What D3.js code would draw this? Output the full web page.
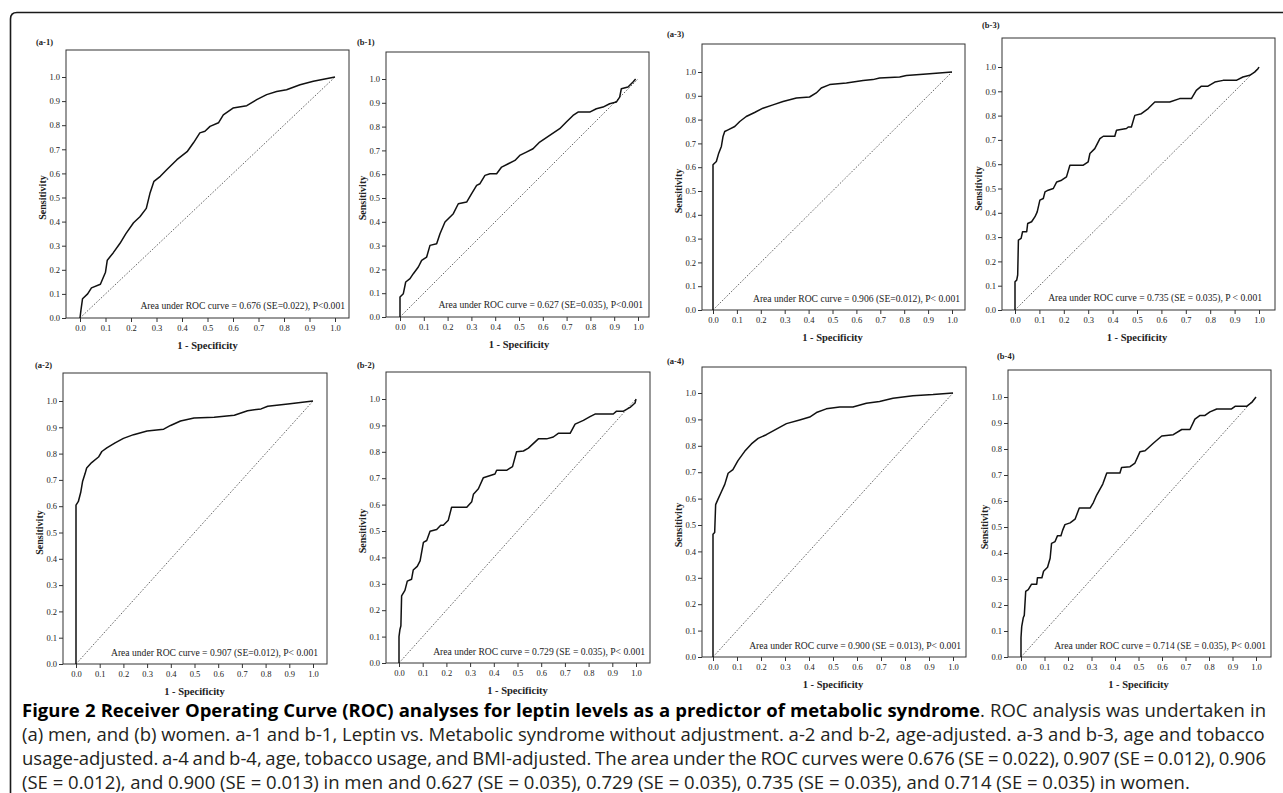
<!DOCTYPE html>
<html>
<head>
<meta charset="utf-8">
<script src="https://cdn.jsdelivr.net/npm/d3@7"></script>
<style>
  html, body { margin: 0; padding: 0; background: #fff; }
  svg { display: block; }
</style>
</head>
<body>
<svg id="fig" width="1283" height="793"></svg>
<script>
/* ---- data ---- */
const panelIds = ["a-1", "b-1", "a-3", "b-3", "a-2", "b-2", "a-4", "b-4"];

// [1 - specificity, sensitivity]
const rocA1 = [[0,0],[0.004,0.035],[0.01,0.08],[0.03,0.1],[0.045,0.125],[0.08,0.14],[0.1,0.19],[0.107,0.24],[0.13,0.27],[0.157,0.31],[0.18,0.35],[0.21,0.395],[0.235,0.42],[0.26,0.455],[0.275,0.52],[0.29,0.567],[0.315,0.588],[0.34,0.615],[0.38,0.657],[0.42,0.69],[0.445,0.727],[0.47,0.768],[0.49,0.775],[0.51,0.795],[0.543,0.81],[0.562,0.843],[0.6,0.871],[0.654,0.881],[0.693,0.906],[0.732,0.927],[0.771,0.94],[0.81,0.947],[0.863,0.968],[0.915,0.982],[0.98,0.996],[1,1]];
const rocB1 = [[0,0],[0,0.084],[0.014,0.098],[0.024,0.147],[0.042,0.161],[0.056,0.182],[0.077,0.21],[0.091,0.238],[0.112,0.252],[0.126,0.301],[0.154,0.308],[0.168,0.35],[0.189,0.399],[0.224,0.434],[0.245,0.476],[0.28,0.483],[0.301,0.518],[0.322,0.553],[0.336,0.56],[0.357,0.595],[0.378,0.602],[0.406,0.602],[0.427,0.63],[0.455,0.644],[0.483,0.658],[0.503,0.679],[0.531,0.693],[0.559,0.707],[0.587,0.735],[0.629,0.763],[0.671,0.791],[0.699,0.819],[0.727,0.847],[0.748,0.861],[0.797,0.861],[0.825,0.875],[0.853,0.882],[0.881,0.896],[0.909,0.903],[0.923,0.924],[0.93,0.959],[0.958,0.966],[0.979,0.987],[0.99,1]];
const rocA3 = [[0,0],[0,0.61],[0.014,0.624],[0.024,0.659],[0.035,0.687],[0.042,0.729],[0.049,0.75],[0.063,0.757],[0.091,0.771],[0.112,0.792],[0.139,0.813],[0.174,0.83],[0.209,0.848],[0.251,0.862],[0.293,0.876],[0.349,0.891],[0.404,0.895],[0.432,0.912],[0.453,0.933],[0.488,0.947],[0.558,0.954],[0.628,0.964],[0.669,0.968],[0.697,0.975],[0.781,0.979],[0.809,0.985],[0.893,0.992],[1,1]];
const rocB3 = [[0,0],[0,0.116],[0.007,0.123],[0.011,0.144],[0.014,0.288],[0.025,0.295],[0.031,0.322],[0.048,0.322],[0.052,0.356],[0.068,0.363],[0.082,0.384],[0.091,0.404],[0.102,0.452],[0.116,0.459],[0.123,0.486],[0.136,0.493],[0.157,0.5],[0.171,0.527],[0.191,0.534],[0.211,0.548],[0.225,0.596],[0.28,0.596],[0.3,0.61],[0.307,0.644],[0.327,0.664],[0.348,0.705],[0.362,0.715],[0.409,0.715],[0.416,0.74],[0.457,0.747],[0.464,0.753],[0.477,0.753],[0.491,0.801],[0.518,0.808],[0.546,0.829],[0.573,0.856],[0.634,0.856],[0.675,0.87],[0.723,0.87],[0.743,0.904],[0.764,0.921],[0.791,0.921],[0.819,0.938],[0.853,0.945],[0.907,0.945],[0.934,0.959],[0.962,0.966],[0.982,0.979],[0.996,0.993],[1,1]];
const rocA2 = [[0,0],[0,0.604],[0.01,0.618],[0.02,0.653],[0.028,0.695],[0.038,0.723],[0.045,0.745],[0.066,0.766],[0.095,0.787],[0.109,0.808],[0.13,0.822],[0.165,0.841],[0.2,0.858],[0.243,0.872],[0.3,0.886],[0.37,0.893],[0.399,0.907],[0.441,0.924],[0.498,0.935],[0.583,0.938],[0.668,0.946],[0.724,0.963],[0.781,0.97],[0.809,0.98],[0.894,0.989],[1,1]];
const rocB2 = [[0,0],[0,0.1],[0.004,0.127],[0.008,0.141],[0.011,0.254],[0.025,0.275],[0.035,0.31],[0.053,0.317],[0.06,0.352],[0.077,0.366],[0.089,0.387],[0.103,0.457],[0.117,0.464],[0.131,0.499],[0.159,0.506],[0.176,0.522],[0.187,0.522],[0.208,0.541],[0.222,0.59],[0.286,0.59],[0.307,0.611],[0.314,0.639],[0.335,0.66],[0.356,0.702],[0.405,0.716],[0.412,0.73],[0.454,0.73],[0.479,0.744],[0.496,0.8],[0.525,0.803],[0.546,0.814],[0.588,0.849],[0.623,0.849],[0.651,0.856],[0.672,0.87],[0.722,0.87],[0.743,0.905],[0.778,0.919],[0.806,0.933],[0.827,0.943],[0.904,0.943],[0.918,0.954],[0.947,0.954],[0.975,0.968],[0.996,0.985],[1,1]];
const rocA4 = [[0,0],[0,0.465],[0.007,0.472],[0.011,0.577],[0.021,0.598],[0.035,0.626],[0.049,0.654],[0.063,0.696],[0.083,0.71],[0.104,0.744],[0.132,0.779],[0.16,0.807],[0.188,0.828],[0.222,0.842],[0.264,0.863],[0.306,0.884],[0.361,0.898],[0.403,0.909],[0.431,0.926],[0.472,0.94],[0.528,0.947],[0.583,0.947],[0.639,0.961],[0.694,0.968],[0.75,0.98],[0.833,0.99],[0.917,0.994],[1,1]];
const rocB4 = [[0,0],[0,0.074],[0.003,0.117],[0.01,0.152],[0.014,0.16],[0.02,0.252],[0.031,0.259],[0.045,0.28],[0.067,0.28],[0.07,0.305],[0.089,0.305],[0.096,0.33],[0.113,0.345],[0.124,0.38],[0.13,0.437],[0.145,0.444],[0.155,0.466],[0.17,0.466],[0.177,0.487],[0.187,0.509],[0.209,0.516],[0.23,0.53],[0.248,0.573],[0.294,0.573],[0.308,0.594],[0.322,0.623],[0.348,0.665],[0.365,0.708],[0.421,0.708],[0.428,0.729],[0.464,0.732],[0.485,0.746],[0.506,0.789],[0.528,0.793],[0.563,0.822],[0.599,0.85],[0.648,0.855],[0.684,0.875],[0.719,0.875],[0.74,0.915],[0.762,0.929],[0.783,0.929],[0.804,0.943],[0.833,0.954],[0.896,0.954],[0.911,0.964],[0.96,0.964],[0.982,0.979],[1,1]];

const diagonal = [[0, 0], [1, 1]];

const aucNotes = [
  "Area under ROC curve = 0.676 (SE=0.022), P<0.001",
  "Area under ROC curve = 0.627 (SE=0.035), P<0.001",
  "Area under ROC curve = 0.906 (SE=0.012), P< 0.001",
  "Area under ROC curve = 0.735 (SE = 0.035), P < 0.001",
  "Area under ROC curve = 0.907 (SE=0.012), P< 0.001",
  "Area under ROC curve = 0.729 (SE = 0.035), P< 0.001",
  "Area under ROC curve = 0.900 (SE = 0.013), P< 0.001",
  "Area under ROC curve = 0.714 (SE = 0.035), P< 0.001"
];

const tickValues = [0, 0.1, 0.2, 0.3, 0.4, 0.5, 0.6, 0.7, 0.8, 0.9, 1.0];
const tickLabels = ["0.0", "0.1", "0.2", "0.3", "0.4", "0.5", "0.6", "0.7", "0.8", "0.9", "1.0"];
const xTitle = "1 - Specificity";
const yTitle = "Sensitivity";

const captionBold = "Figure 2 Receiver Operating Curve (ROC) analyses for leptin levels as a predictor of metabolic syndrome";
const captionLines = [
  ". ROC analysis was undertaken in",
  "(a) men, and (b) women. a-1 and b-1, Leptin vs. Metabolic syndrome without adjustment. a-2 and b-2, age-adjusted. a-3 and b-3, age and tobacco",
  "usage-adjusted. a-4 and b-4, age, tobacco usage, and BMI-adjusted. The area under the ROC curves were 0.676 (SE = 0.022), 0.907 (SE = 0.012), 0.906",
  "(SE = 0.012), and 0.900 (SE = 0.013) in men and 0.627 (SE = 0.035), 0.729 (SE = 0.035), 0.735 (SE = 0.035), and 0.714 (SE = 0.035) in women."
];

/* ---- layout of each small panel: box [l,t,r,b], x range, y range ---- */
const layout = [
  { box: [66, 50, 349, 318],    x: [80, 335],    y: [318, 77],  label: [36, 45],    note: [345, 309] },
  { box: [386, 52, 649, 317],   x: [400, 638],   y: [317, 79],  label: [357, 45],   note: [643, 308] },
  { box: [702, 44, 965, 310],   x: [713, 952],   y: [310, 72],  label: [667, 37],   note: [960, 302] },
  { box: [1002, 38, 1275, 310], x: [1015, 1259], y: [310, 67],  label: [982, 28],   note: [1262, 301] },
  { box: [63, 373, 327, 664],   x: [76, 313],    y: [664, 401], label: [35, 368],   note: [318, 656] },
  { box: [386, 372, 650, 663],  x: [399, 636],   y: [663, 399], label: [357, 368],  note: [645, 655] },
  { box: [702, 367, 966, 657],  x: [713, 953],   y: [657, 393], label: [667, 364],  note: [961, 649] },
  { box: [1008, 370, 1271, 657],x: [1021, 1256], y: [657, 397], label: [997, 359],  note: [1266, 649] }
];

const curves = [rocA1, rocB1, rocA3, rocB3, rocA2, rocB2, rocA4, rocB4];
const serif = "'Liberation Serif', 'Times New Roman', serif";

const svg = d3.select("#fig");

/* outer frame with rounded corner, running off the right and bottom */
svg.append("path")
  .attr("d", "M10.5,800 L10.5,19 Q10.5,12.5 17,12.5 L1300,12.5")
  .attr("fill", "none")
  .attr("stroke", "#1a1a1a")
  .attr("stroke-width", 1.6);

panelIds.forEach((id, i) => drawPanel(id, i));

function drawPanel(id, i) {
  const lay = layout[i];
  const [l, t, r, b] = lay.box;
  const x = d3.scaleLinear().domain([0, 1]).range(lay.x);
  const y = d3.scaleLinear().domain([0, 1]).range(lay.y);
  const g = svg.append("g").attr("class", "panel");

  g.append("rect")
    .attr("x", l).attr("y", t)
    .attr("width", r - l).attr("height", b - t)
    .attr("fill", "none")
    .attr("stroke", "#333")
    .attr("stroke-width", 1);

  /* axes: ticks only, the box gives the lines */
  const xAxis = d3.axisBottom(x)
    .tickValues(tickValues)
    .tickFormat((d, j) => tickLabels[j])
    .tickSize(4).tickPadding(3).tickSizeOuter(0);
  const yAxis = d3.axisLeft(y)
    .tickValues(tickValues)
    .tickFormat((d, j) => tickLabels[j])
    .tickSize(4).tickPadding(2).tickSizeOuter(0);

  const xg = g.append("g").attr("transform", `translate(0,${b})`).call(xAxis);
  const yg = g.append("g").attr("transform", `translate(${l},0)`).call(yAxis);
  [xg, yg].forEach(a => {
    a.select(".domain").remove();
    a.attr("font-family", serif).attr("font-size", 8.5);
    a.selectAll("line").attr("stroke", "#333");
    a.selectAll("text").attr("fill", "#222");
  });

  /* diagonal reference */
  const line = d3.line().x(d => x(d[0])).y(d => y(d[1]));
  g.append("path")
    .datum(diagonal)
    .attr("d", line)
    .attr("fill", "none")
    .attr("stroke", "#555")
    .attr("stroke-width", 0.9)
    .attr("stroke-dasharray", "1.6,1.6");

  /* ROC curve */
  g.append("path")
    .datum(curves[i])
    .attr("d", line)
    .attr("fill", "none")
    .attr("stroke", "#111")
    .attr("stroke-width", 1.5)
    .attr("stroke-linejoin", "round");

  /* area note */
  g.append("text")
    .attr("x", lay.note[0]).attr("y", lay.note[1])
    .attr("text-anchor", "end")
    .attr("font-family", serif)
    .attr("font-size", 9.6)
    .attr("fill", "#222")
    .text(aucNotes[i]);

  /* panel tag */
  g.append("text")
    .attr("x", lay.label[0]).attr("y", lay.label[1])
    .attr("font-family", serif)
    .attr("font-size", 8.5)
    .attr("font-weight", "bold")
    .attr("fill", "#222")
    .text("(" + id + ")");

  /* axis titles */
  g.append("text")
    .attr("x", (lay.x[0] + lay.x[1]) / 2).attr("y", b + 31)
    .attr("text-anchor", "middle")
    .attr("font-family", serif)
    .attr("font-size", 10.5)
    .attr("font-weight", "bold")
    .attr("fill", "#222")
    .text(xTitle);

  g.append("text")
    .attr("transform", `translate(${l - 24},${(lay.y[0] + lay.y[1]) / 2}) rotate(-90)`)
    .attr("text-anchor", "middle")
    .attr("dominant-baseline", "central")
    .attr("font-family", serif)
    .attr("font-size", 10)
    .attr("font-weight", "bold")
    .attr("fill", "#222")
    .text(yTitle);
}

/* ---- caption ---- */
const capX = 22;
const capRight = 1266;
const capBase = [717, 741, 765, 789];
const capFont = "'Open Sans', 'Noto Sans', sans-serif";

const cap = svg.append("g")
  .attr("font-family", capFont)
  .attr("fill", "#231f20");

const capTexts = captionLines.map((s, k) => {
  const t = cap.append("text").attr("x", capX).attr("y", capBase[k]).attr("font-size", 18);
  if (k === 0) {
    t.append("tspan").attr("font-weight", "bold").attr("fill", "#000").text(captionBold);
    t.append("tspan").text(s);
  } else {
    t.text(s);
  }
  return t;
});

/* size the font so line 2 fits the text block, then justify lines 1 and 3;
   the last line stays ragged */
const natural = capTexts[1].node().getComputedTextLength();
const fs = 18 * (capRight - capX) / natural;
capTexts.forEach(t => t.attr("font-size", fs));
[0, 2].forEach(k => {
  const w = capTexts[k].node().getComputedTextLength();
  const full = (k === 0 ? captionBold : "") + captionLines[k];
  const spaces = (full.match(/ /g) || []).length;
  capTexts[k].attr("word-spacing", ((capRight - capX) - w) / spaces);
});
</script>
</body>
</html>
